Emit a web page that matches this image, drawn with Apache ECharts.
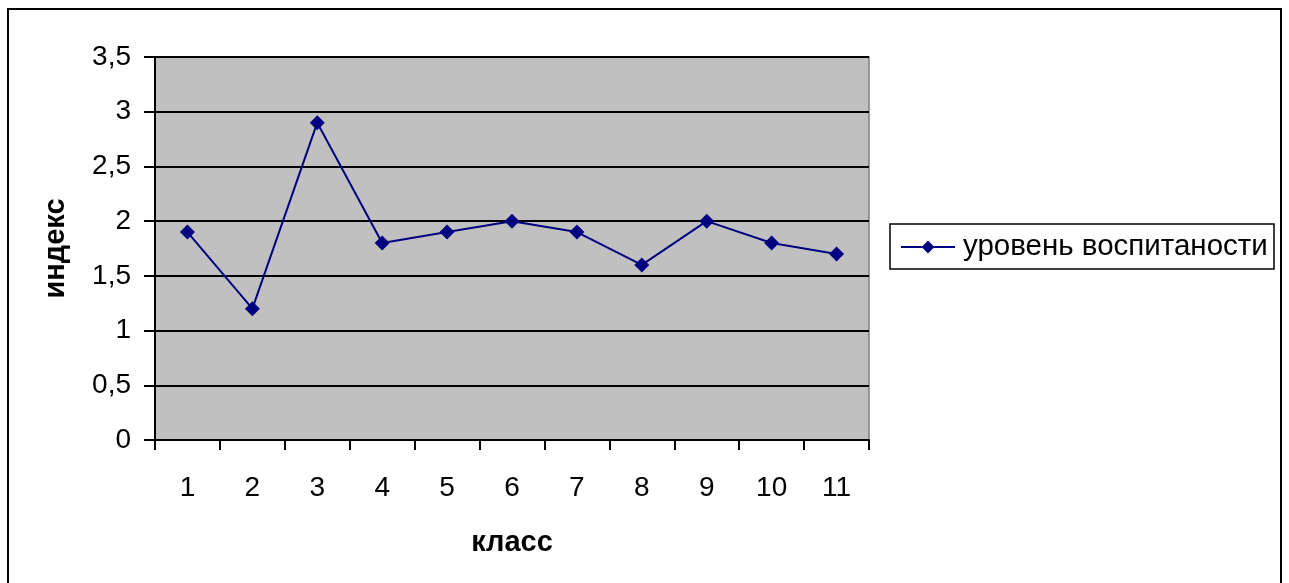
<!DOCTYPE html>
<html><head><meta charset="utf-8">
<script src="https://cdn.jsdelivr.net/npm/echarts@6/dist/echarts.min.js"></script>
<style>html,body{margin:0;padding:0;background:#fff}#c{width:1289px;height:583px}</style>
</head><body><div id="c"></div>
<script>
const categories = ['1','2','3','4','5','6','7','8','9','10','11'];
const values = [1.9, 1.2, 2.9, 1.8, 1.9, 2.0, 1.9, 1.6, 2.0, 1.8, 1.7];
const seriesName = 'уровень воспитаности';
const xName = 'класс';
const yName = 'индекс';

const chart = echarts.init(document.getElementById('c'));
const font = 'Arial, "Liberation Sans", sans-serif';
chart.setOption({
  animation: false,
  backgroundColor: '#fff',
  textStyle: { fontFamily: font },
  graphic: [
    { type: 'rect', shape: { x: 8, y: 9, width: 1273, height: 590 }, style: { fill: 'none', stroke: '#000', lineWidth: 2 }, z: 0 },
    { type: 'rect', shape: { x: 890, y: 224, width: 384, height: 45 }, style: { fill: '#fff', stroke: '#000', lineWidth: 1.5 }, z: 1 }
  ],
  grid: { left: 155, right: 420, top: 57, bottom: 143, show: true, backgroundColor: '#c0c0c0', borderColor: '#808080', borderWidth: 1.5 },
  legend: {
    left: 900, top: 232, padding: 0,
    itemWidth: 54, itemHeight: 16, itemGap: 0,
    textStyle: { fontSize: 29.5, color: '#000', fontFamily: font, padding: [0, 0, 0, 3] },
    data: [seriesName]
  },
  xAxis: {
    type: 'category', data: categories, boundaryGap: true,
    name: xName, nameLocation: 'middle', nameGap: 88,
    nameTextStyle: { fontSize: 29, fontWeight: 'bold', color: '#000' },
    axisLine: { lineStyle: { color: '#000', width: 2 } },
    axisTick: { show: true, alignWithLabel: false, length: 10, lineStyle: { color: '#000', width: 2 } },
    axisLabel: { fontSize: 28, color: '#000', margin: 34 },
    splitLine: { show: false }
  },
  yAxis: {
    type: 'value', min: 0, max: 3.5, interval: 0.5,
    name: yName, nameLocation: 'middle', nameGap: 85,
    nameTextStyle: { fontSize: 29, fontWeight: 'bold', color: '#000' },
    axisLine: { show: true, lineStyle: { color: '#000', width: 2 } },
    axisTick: { show: true, length: 11, lineStyle: { color: '#000', width: 2 } },
    axisLabel: { fontSize: 28, color: '#000', margin: 24, formatter: v => String(v).replace('.', ',') },
    splitLine: { show: true, lineStyle: { color: '#000', width: 2 } }
  },
  series: [{
    name: seriesName, type: 'line', data: values,
    symbol: 'diamond', symbolSize: 15,
    lineStyle: { color: '#000080', width: 2 },
    itemStyle: { color: '#000080' }
  }]
});
</script></body></html>
